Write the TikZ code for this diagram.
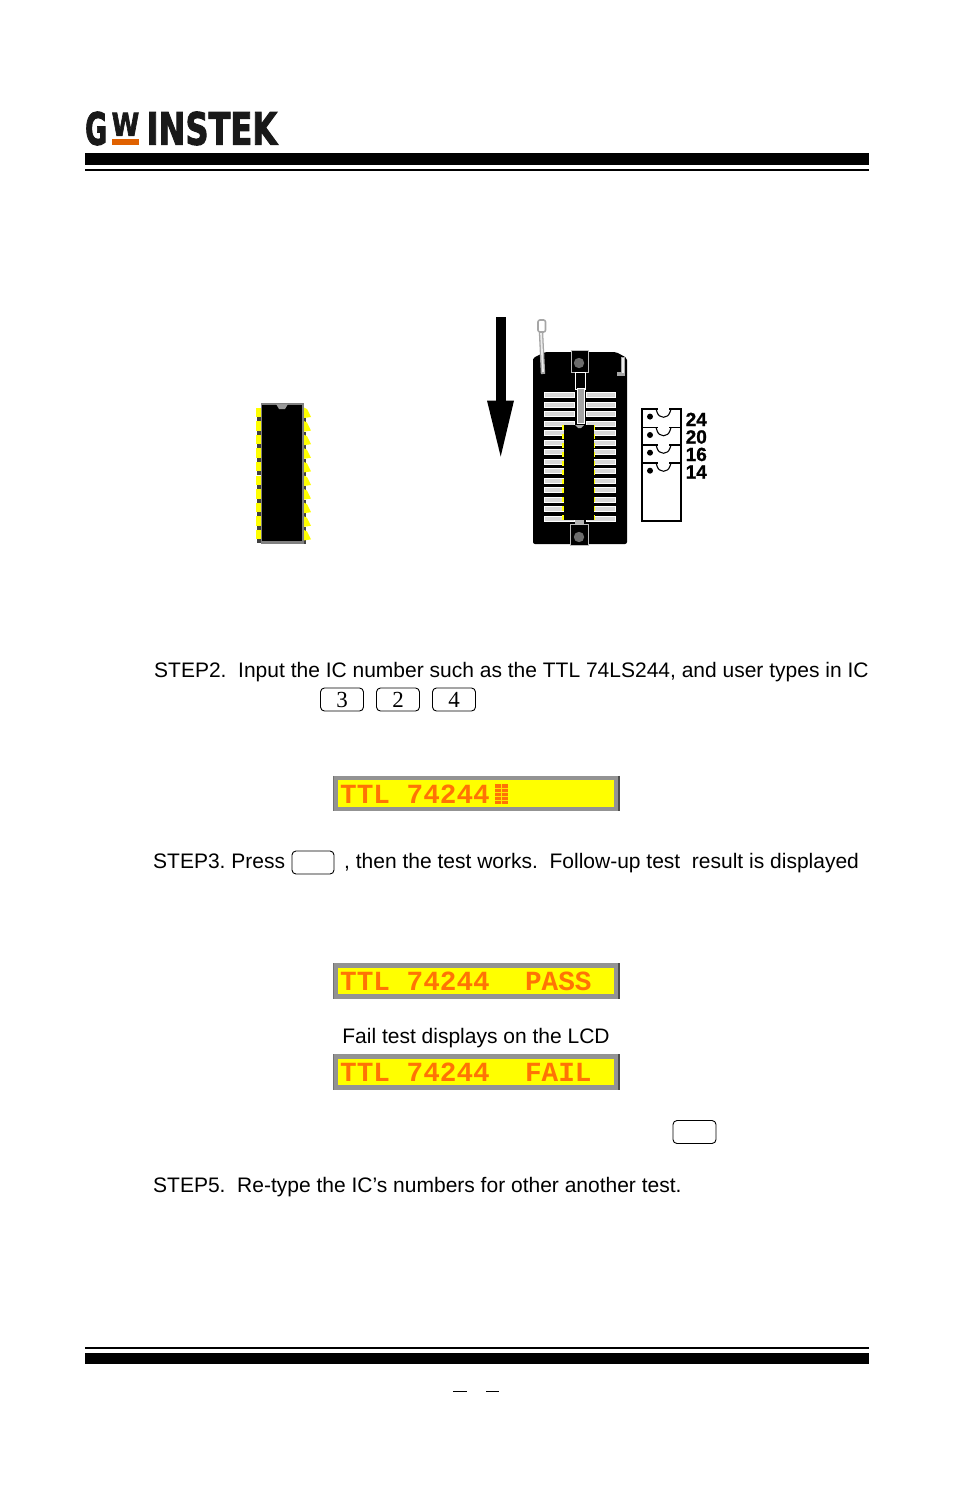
\documentclass[tikz,border=0pt]{standalone}
\usepackage{graphicx}
\usepackage{fontspec}
\setmainfont{Liberation Sans}
\newfontfamily\keyfont{Liberation Serif}
\newfontfamily\lcdfont{Liberation Mono}
\newfontfamily\logofont[BoldFeatures={FakeBold=2.5}]{DejaVu Sans}
\newfontfamily\sizefont[BoldFeatures={FakeBold=1.2}]{Liberation Sans}
\definecolor{lcdtext}{rgb}{1,0.45,0.02}
\definecolor{lcdyellow}{rgb}{1,1,0}
\definecolor{logoink}{rgb}{0.1,0.1,0.1}
\definecolor{logobar}{rgb}{0.88,0.38,0}
\tikzset{
  line/.style={anchor=base west,inner sep=0pt,font=\fontsize{21}{24}\selectfont\frenchspacing},
  keycap/.style={draw,rounded corners=4pt,line width=0.9pt,minimum width=43pt,minimum height=23pt,inner sep=0pt,font=\keyfont\fontsize{23}{24}\selectfont},
  lcdbox/.style={draw=gray!85,fill=lcdyellow,line width=4.5pt,minimum width=281pt,minimum height=31pt,inner sep=0pt},
  lcdline/.style={anchor=base west,inner sep=0pt,text=lcdtext,font=\lcdfont\bfseries\fontsize{27.7}{28}\selectfont},
  sizeline/.style={anchor=base west,inner sep=0pt,font=\sizefont\bfseries\fontsize{19}{20}\selectfont},
  logotext/.style={anchor=south west,inner sep=0pt,text=logoink,font=\logofont\bfseries},
  pinrow/.style={fill=gray!30,draw=white,line width=0.6pt},
  clipwire/.style={draw=gray!70,line width=4.4pt},
  clipcore/.style={draw=gray!15,line width=1.8pt}
}
\begin{document}
\begin{tikzpicture}[x=1pt,y=-1pt]
  \useasboundingbox (0,0) rectangle (954,1491);
  \node[logotext] (logoG) at (85,145.5) {\resizebox{22pt}{33pt}{G}};
  \node[logotext] (logoW) at (111.5,136) {\resizebox{27.5pt}{23pt}{W}};
  \node[logotext] (logoI) at (146.5,145.5) {\resizebox{130.5pt}{33pt}{INSTEK}};
  \fill[logobar] (112,139) rectangle (139,145);
  \fill (85,153) rectangle (869,165);
  \fill (85,169) rectangle (869,171);
  \fill (85,1347) rectangle (869,1349);
  \fill (85,1353) rectangle (869,1364);
  \draw[line width=1pt] (453,1391) -- (467,1391);
  \draw[line width=1pt] (486,1391) -- (499,1391);

  \foreach \y in {412,425.6,...,536} {
    \fill[black!75] (257,\y+5) rectangle (261,\y+9);
    \fill[black!75] (303,\y+6) rectangle (306,\y+10);
    \fill[lcdyellow] (256,\y-4.5) rectangle (261,\y+5);
    \fill[lcdyellow] (303,\y-5) -- (307,\y-3) -- (311,\y+5) -- (304,\y+6) -- cycle;
  }
  \fill[gray] (260.5,403) rectangle (303.5,544);
  \fill (262,405) rectangle (302,541);
  \fill[gray!80] (276,404) -- (288,404) -- (285,409) -- (279,409) -- cycle;

  \fill (495.5,317) rectangle (506,401);
  \fill (487,400.5) -- (514,400.5) -- (500.7,456.5) -- cycle;

  \fill[rounded corners=2pt] (533,360) -- (533,358) -- (545,352) -- (616,352) -- (627,358) -- (627,544) -- (533,544) -- cycle;
  \foreach \y in {395,404.5,...,519} {
    \fill[pinrow] (544,\y-2.6) rectangle (574,\y+2.6);
    \fill[pinrow] (586,\y-2.6) rectangle (615,\y+2.6);
  }
  \draw[gray!50,line width=0.6pt,fill=black] (571,350) rectangle (588,372);
  \fill[gray!85!black] (579,363) circle (5.2);
  \draw[white,line width=0.8pt,fill=black] (575,372) rectangle (585,389);
  \draw[white,line width=0.8pt,fill=gray!70] (577,388) rectangle (584,423);
  \draw[gray!50,line width=0.6pt,fill=black] (570,524) rectangle (588,545);
  \fill[gray!85!black] (579,537) circle (5.2);
  \fill[gray!60] (575,520) rectangle (584,524);

  \fill (564,425) rectangle (594,520);
  \fill[gray!70] (575,425) -- (584,425) -- (581,428) -- (578,428) -- cycle;
  \draw[lcdyellow,line width=1.2pt,dash pattern=on 5pt off 4pt] (563,425) -- (563,520);
  \draw[lcdyellow,line width=1.2pt,dash pattern=on 5pt off 4pt] (594.5,425) -- (594.5,520);

  \draw[clipwire] (541,332) -- (543,374);
  \draw[clipcore] (541,332) -- (543,372);
  \draw[clipwire,fill=white,line width=1.6pt,rounded corners=2pt] (538,320) rectangle (545.5,332);
  \draw[clipwire] (623,357) -- (623,374) -- (617,374);
  \draw[clipcore] (623,358) -- (623,373);

  \draw[line width=1.1pt] (642,409) rectangle (681,521);
  \draw[line width=1.1pt] (642,427.5) -- (681,427.5);
  \draw[line width=1.1pt] (642,445) -- (681,445);
  \draw[line width=1.1pt] (642,463) -- (681,463);
  \foreach \y/\d in {409/416.6,427.5/435,445/452.7,463/470.7} {
    \fill[white] (657.6,\y-0.8) rectangle (669.4,\y+0.8);
    \draw[line width=1.1pt] (656,\y) -- (657,\y+3) .. controls (659,\y+10) and (668,\y+10) .. (670,\y+3) -- (671,\y);
    \fill (650,\d) circle (3);
  }
  \node[sizeline] (size24) at (685.5,426) {24};
  \node[sizeline] (size20) at (685.5,443.5) {20};
  \node[sizeline] (size16) at (685.5,461) {16};
  \node[sizeline] (size14) at (685.5,478.5) {14};

  \node[line] (step2) at (154,677) {STEP2.\ \ Input the IC number such as the TTL 74LS244, and user types in IC};
  \node[keycap] (key3) at (342,699.5) {3};
  \node[keycap] (key2) at (398,699.5) {2};
  \node[keycap] (key4) at (454,699.5) {4};

  \node[lcdbox] (lcdtyped) at (476,793.5) {};
  \draw[black!70,line width=1.5pt] (lcdtyped.north east) -- (lcdtyped.south east);
  \draw[black!55,line width=1pt] (lcdtyped.north west) -- (lcdtyped.south west);
  \node[lcdline] (typedtext) at (340,803) {TTL 74244};
  \fill[lcdtext] (495,784) rectangle (508,804);
  \foreach \y in {788,792,796,800} {
    \draw[lcdyellow!80!lcdtext,line width=0.7pt] (495,\y) -- (508,\y);
  }
  \draw[lcdyellow!80!lcdtext,line width=0.7pt] (501.5,784) -- (501.5,804);

  \node[line] (step3a) at (153,868) {STEP3. Press};
  \node[keycap,minimum width=42pt] (keyrun) at (313,862.5) {};
  \node[line] (step3b) at (344,868) {, then the test works.\ \ Follow-up test\ \ result is displayed};

  \node[lcdbox] (lcdpass) at (476,981) {};
  \draw[black!70,line width=1.5pt] (lcdpass.north east) -- (lcdpass.south east);
  \draw[black!55,line width=1pt] (lcdpass.north west) -- (lcdpass.south west);
  \node[lcdline] (passtext) at (340,990.5) {TTL 74244\ \ \hspace{2pt}PASS};

  \node[line,anchor=base] (failnote) at (476,1043) {Fail test displays on the LCD};

  \node[lcdbox] (lcdfail) at (476,1072) {};
  \draw[black!70,line width=1.5pt] (lcdfail.north east) -- (lcdfail.south east);
  \draw[black!55,line width=1pt] (lcdfail.north west) -- (lcdfail.south west);
  \node[lcdline] (failtext) at (340,1081.5) {TTL 74244\ \ \hspace{2pt}FAIL};

  \node[keycap] (keynext) at (694.5,1132) {};
  \node[line] (step5) at (153,1192) {STEP5.\ \ Re-type the IC’s numbers for other another test.};
\end{tikzpicture}
\end{document}
